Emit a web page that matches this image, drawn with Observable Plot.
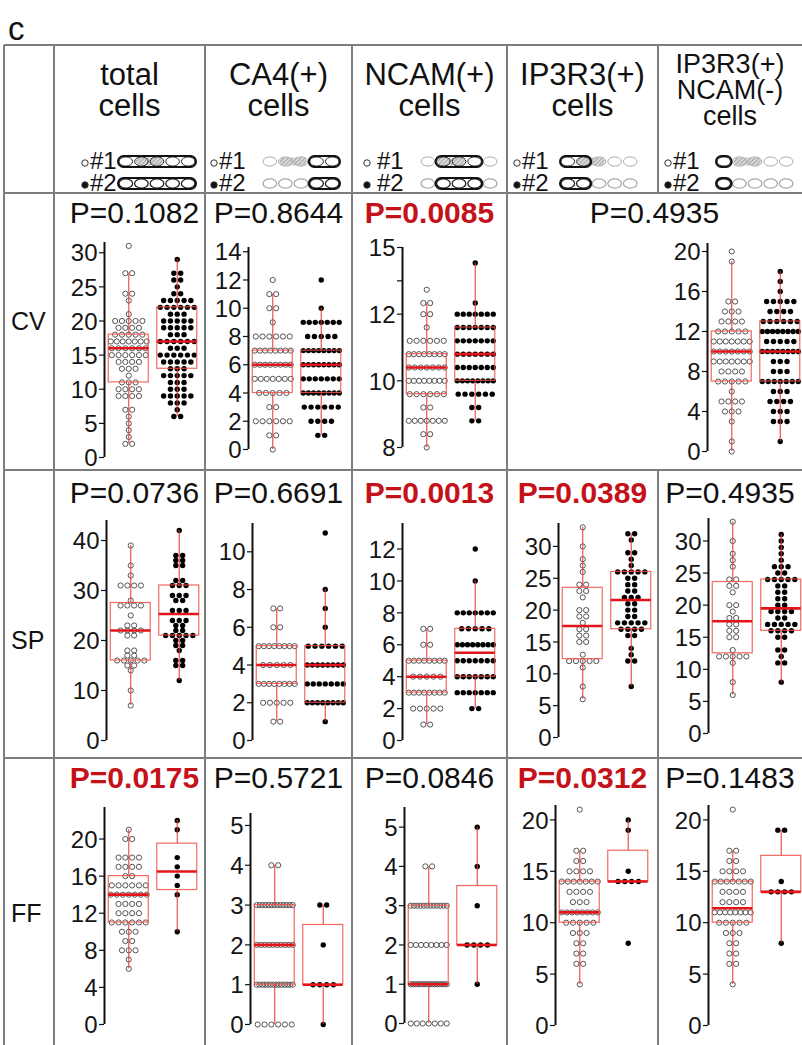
<!DOCTYPE html>
<html><head><meta charset="utf-8">
<script src="https://cdn.jsdelivr.net/npm/d3@7"></script>
<script src="https://cdn.jsdelivr.net/npm/@observablehq/plot@0.6"></script>
<style>
body{margin:0;background:#fff;}
#fig{position:relative;width:802px;height:1045px;overflow:hidden;background:#fff;}
</style></head><body><div id="fig"></div>
<script>
// ---------------- DATA ----------------
const groupNames = ["#1", "#2"];
const columnTitles = [["total","cells"],["CA4(+)","cells"],["NCAM(+)","cells"],["IP3R3(+)","cells"],["IP3R3(+)","NCAM(-)","cells"]];
const rowNames = ["CV", "SP", "FF"];

// P values per row (CV row: last two columns merged)
const pCV = ["P=0.1082","P=0.8644","P=0.0085","P=0.4935"];
const pSP = ["P=0.0736","P=0.6691","P=0.0013","P=0.0389","P=0.4935"];
const pFF = ["P=0.0175","P=0.5721","P=0.0846","P=0.0312","P=0.1483"];
const sigCV = [false,false,true,false];
const sigSP = [false,false,true,true,false];
const sigFF = [true,false,false,true,false];

// dot values as [value, count]; boxes as [whiskerLow, q1, median, q3, whiskerHigh]
const cv_tot_1 = [[31,1],[27,2],[24,2],[23,1],[21,1],[20,5],[19,4],[18,5],[17,7],[16,6],[15,6],[14,4],[13,3],[12,1],[11,3],[10,4],[9,4],[7,2],[6,1],[5,1],[4,1],[3,1],[2,2]];
const cv_tot_2 = [[29,1],[27,2],[26,2],[25,1],[24,2],[23,5],[22,6],[21,3],[20,5],[19,5],[18,3],[17,6],[16,3],[15,6],[14,5],[13,3],[12,5],[11,3],[10,3],[9,5],[8,3],[7,1],[6,2]];
const cv_tot_box = [[2,11,16,18,27],[6,13,17,22,29]];
const cv_tot_ticks = [0,5,10,15,20,25,30];

const cv_ca4_1 = [[12,1],[11,2],[10,2],[9,1],[8,6],[7,8],[6,8],[5,7],[4,5],[3,2],[2,6],[1,2],[0,1]];
const cv_ca4_2 = [[12,1],[10,1],[9,7],[8,5],[7,8],[6,8],[5,7],[4,8],[3,6],[2,4],[1,2]];
const cv_ca4_box = [[0,4,6,7,11],[1,4,6,7,10]];
const cv_ca4_ticks = [0,2,4,6,8,10,12,14];

const cv_ncam_1 = [[13.1,1],[12.5,2],[12,2],[11.6,1],[11.2,6],[10.8,8],[10.4,7],[10,8],[9.6,6],[9.2,2],[8.8,7],[8.4,2],[8,1]];
const cv_ncam_2 = [[14.3,1],[12.5,1],[12,7],[11.6,7],[11.2,7],[10.8,7],[10.4,7],[10,8],[9.6,6],[9.2,2],[8.8,2]];
const cv_ncam_box = [[8,9.6,10.4,10.8,12.5],[8.8,10,10.8,11.6,14.3]];
const cv_ncam_ticks = [8,10,12,13.5,15];
const cv_ncam_labels = ["8","10","12","","15"];

const cv_ip_1 = [[20,1],[19,1],[15,2],[14,3],[13,4],[12,5],[11,7],[10,7],[9,7],[8,4],[7,5],[6,1],[5,4],[4,3],[3,1],[1,1],[0,1]];
const cv_ip_2 = [[18,1],[17,1],[16,1],[15,5],[14,4],[13,6],[12,8],[11,5],[10,8],[9,3],[8,3],[7,7],[6,3],[5,4],[4,3],[3,3],[1,1]];
const cv_ip_box = [[0,7,10,12,19],[1,7,10,13,18]];
const cv_ip_ticks = [0,4,8,12,16,20];

const sp_tot_1 = [[39,1],[35,1],[33,1],[31,4],[28,1],[27,4],[25,1],[23,2],[22,4],[21,2],[18,2],[17,2],[16,5],[15,2],[14,1],[10,1],[7,1]];
const sp_tot_2 = [[42,1],[37,2],[36,2],[35,2],[32,2],[31,3],[29,3],[28,2],[26,3],[24,3],[23,2],[22,2],[21,5],[20,2],[19,2],[18,1],[16,2],[15,2],[12,1]];
const sp_tot_box = [[7,16,22,27.5,39],[12,21,25.3,31,42]];
const sp_tot_ticks = [0,10,20,30,40];

const sp_ca4_1 = [[7,2],[6,2],[5,8],[4,5],[3,8],[2,5],[1,2]];
const sp_ca4_2 = [[11,1],[8,1],[7,1],[6,1],[5,6],[4,8],[3,7],[2,8],[1,1]];
const sp_ca4_box = [[1,3,4,5,7],[1,2,4,5,8]];
const sp_ca4_ticks = [0,2,4,6,8,10];

const sp_ncam_1 = [[7,2],[6,2],[5,8],[4,5],[3,8],[2,5],[1,2]];
const sp_ncam_2 = [[12,1],[10,1],[8,7],[7,5],[6,8],[5,7],[4,7],[3,7],[2,2]];
const sp_ncam_box = [[1,3,4,5,7],[2,4,5.5,7,10]];
const sp_ncam_ticks = [0,2,4,6,8,10,12];

const sp_ip_1 = [[33,1],[30,1],[28,1],[27,1],[26,1],[24,2],[23,2],[22,1],[20,2],[19,2],[18,1],[17,2],[16,2],[15,2],[13,1],[12,5],[11,1],[8,1],[6,1]];
const sp_ip_2 = [[32,2],[31,1],[29,2],[28,1],[27,1],[26,5],[25,2],[24,2],[23,2],[22,3],[21,2],[20,2],[19,2],[18,5],[17,4],[16,2],[14,1],[13,1],[12,2],[8,1]];
const sp_ip_box = [[6,12.3,17.5,23.5,33],[8,17,21.6,26,32]];
const sp_ip_ticks = [0,5,10,15,20,25,30];

const sp_ipn_1 = [[33,1],[30,1],[28,1],[27,1],[26,1],[24,2],[23,2],[22,1],[20,2],[19,1],[18,2],[17,2],[16,2],[15,2],[13,1],[12,5],[11,1],[8,1],[6,1]];
const sp_ipn_2 = [[31,1],[30,1],[29,1],[28,1],[27,1],[26,3],[25,2],[24,5],[23,2],[22,2],[21,2],[20,2],[19,4],[18,2],[17,5],[16,4],[15,2],[13,2],[12,1],[11,2],[8,1]];
const sp_ipn_box = [[6,12.5,17.5,23.6,33],[8,16,19.5,24,31]];
const sp_ipn_ticks = [0,5,10,15,20,25,30];

const ff_tot_1 = [[21,1],[20,2],[18,4],[17,4],[16,2],[15,6],[14,7],[13,4],[12,4],[11,6],[10,3],[9,2],[8,3],[7,1],[6,1]];
const ff_tot_2 = [[22,1],[21,1],[18,1],[17,1],[16,1],[15,1],[14,1],[10,1]];
const ff_tot_box = [[6,11,14,16,21],[10,14.5,16.5,19.5,22]];
const ff_tot_ticks = [0,4,8,12,16,20];

const ff_ca4_1 = [[4,2],[3,13],[2,10],[1,14],[0,6]];
const ff_ca4_2 = [[3,2],[2,1],[1,4],[0,1]];
const ff_ca4_box = [[0,1,2,3,4],[0,1,1,2.5,3]];
const ff_ca4_ticks = [0,1,2,3,4,5];

const ff_ncam_1 = [[4,2],[3,12],[2,8],[1,16],[0,7]];
const ff_ncam_2 = [[5,1],[4,1],[3,1],[2,4],[1,1]];
const ff_ncam_box = [[0,1,1,3,4],[1,2,2,3.5,5]];
const ff_ncam_ticks = [0,1,2,3,4,5];

const ff_ip_1 = [[21,1],[17,2],[16,2],[15,4],[14,7],[13,4],[12,3],[11,8],[10,5],[9,3],[8,2],[7,2],[6,2],[4,1]];
const ff_ip_2 = [[20,1],[19,1],[15,1],[14,4],[8,1]];
const ff_ip_box = [[4,10,11,14,17],[14,14,14,17,20]];
const ff_ip_ticks = [0,5,10,15,20];

const ff_ipn_1 = [[21,1],[17,2],[16,2],[15,4],[14,7],[13,4],[12,4],[11,8],[10,5],[9,3],[8,2],[7,2],[6,2],[4,1]];
const ff_ipn_2 = [[19,2],[14,1],[13,4],[8,1]];
const ff_ipn_box = [[4,10,11.4,14,17],[8,13,13,16.5,19]];
const ff_ipn_ticks = [0,5,10,15,20];

// legend icon patterns per column: [dark outlined range, hatched range] (oval indices)
const iconDark1 = [[0,4],[3,4],[1,3],[0,1],[0,0]];
const iconHatch1 = [[1,2],[1,2],[1,2],[1,2],[1,2]];
const iconDark2 = [[0,4],[3,4],[1,3],[0,1],[0,0]];

// ---------------- LAYOUT ----------------
const FONT = "'Liberation Sans', Arial, Helvetica, sans-serif";
const RED = "#c4121a";
const TICK_FS = 24;
const colX = [4, 54, 205, 352, 507, 658, 802];
const rowY = [45, 193, 470, 758, 1045];
const fig = document.getElementById("fig");

const svg = d3.select(fig).append("svg")
  .attr("width", 802).attr("height", 1045)
  .style("position", "absolute").style("left", 0).style("top", 0)
  .style("font-family", FONT);

const defs = svg.append("defs");
const pat = defs.append("pattern").attr("id", "hatch").attr("patternUnits", "userSpaceOnUse")
  .attr("width", 3).attr("height", 3).attr("patternTransform", "rotate(45)");
pat.append("rect").attr("width", 3).attr("height", 3).attr("fill", "#d8d8d8");
pat.append("line").attr("x1", 0).attr("y1", 0).attr("x2", 0).attr("y2", 3).attr("stroke", "#888").attr("stroke-width", 1.2);

// grid lines
const GL = "#7d7d7d";
function hline(y, x1, x2) { svg.append("line").attr("x1", x1).attr("x2", x2).attr("y1", y).attr("y2", y).attr("stroke", GL).attr("stroke-width", 2); }
function vline(x, y1, y2) { svg.append("line").attr("x1", x).attr("x2", x).attr("y1", y1).attr("y2", y2).attr("stroke", GL).attr("stroke-width", 2); }
rowY.slice(0, 4).forEach(y => hline(y, colX[0], 802));
[0,1,2,3,4].forEach(i => vline(colX[i], rowY[0], 1045));
vline(colX[5], rowY[0], rowY[1]);
vline(colX[5], rowY[2], 1045);

// panel label "c"
svg.append("text").attr("x", 8).attr("y", 40).attr("font-size", 33).attr("fill", "#111").text("c");

// header titles
columnTitles.forEach((lines, j) => {
  const cx = (colX[j + 1] + colX[j + 2]) / 2;
  const three = lines.length === 3;
  const fs = three ? 27 : 31;
  const y0 = three ? 73 : 85;
  const dy = three ? 26 : 31;
  lines.forEach((t, k) => svg.append("text").attr("x", cx).attr("y", y0 + k * dy)
    .attr("text-anchor", "middle").attr("font-size", fs).attr("fill", "#111").text(t));
});

// header legends: offsets of marker and pill from the cell's left edge
const legMarkerOff = [28, 6, 12, 7, 7];
const legPillOff = [64, 57, 68, 53, 58];
function pill(x, y, dark, hatch, strong) {
  const g = svg.append("g");
  const ow = 15.6, n = 5;
  if (hatch) g.append("rect").attr("x", x + hatch[0] * ow + 2).attr("y", y + 1.5).attr("width", (hatch[1] - hatch[0] + 1) * ow - 4).attr("height", 8).attr("rx", 4).attr("fill", "url(#hatch)");
  for (let i = 0; i < n; i++) {
    g.append("ellipse").attr("cx", x + ow / 2 + i * ow).attr("cy", y + 5.5).attr("rx", 6.8).attr("ry", 4.6)
      .attr("fill", "none").attr("stroke", (i >= dark[0] && i <= dark[1]) ? "#222" : "#aaa").attr("stroke-width", strong ? 1.3 : 1);
  }
  g.append("rect").attr("x", x + dark[0] * ow).attr("y", y).attr("width", (dark[1] - dark[0] + 1) * ow).attr("height", 11).attr("rx", 5.5)
    .attr("fill", "none").attr("stroke", "#111").attr("stroke-width", 2);
}
columnTitles.forEach((_, j) => {
  const x = colX[j + 1] + legMarkerOff[j];
  [0, 1].forEach(gi => {
    const yb = gi === 0 ? 169 : 191;
    svg.append("circle").attr("cx", x + 3).attr("cy", yb - 6).attr("r", 3.2)
      .attr("fill", gi === 0 ? "none" : "#111").attr("stroke", "#333").attr("stroke-width", 1);
    svg.append("text").attr("x", x + (j === 2 ? 13 : 8)).attr("y", yb).attr("font-size", 24).attr("fill", "#111").text(groupNames[gi]);
    pill(colX[j + 1] + legPillOff[j], yb - 13, gi === 0 ? iconDark1[j] : iconDark2[j], gi === 0 ? iconHatch1[j] : null, gi === 1);
  });
});

// row labels
const rowLabelY = [330, 649, 922];
rowNames.forEach((r, i) => svg.append("text").attr("x", 11).attr("y", rowLabelY[i]).attr("font-size", 25).attr("fill", "#111").text(r));

// P values
function pText(cx, y, t, sig) {
  svg.append("text").attr("x", cx).attr("y", y).attr("text-anchor", "middle").attr("font-size", 30)
    .attr("font-weight", sig ? "bold" : "normal").attr("fill", sig ? RED : "#111").text(t);
}
const cellC = j => (colX[j + 1] + colX[j + 2]) / 2;
pCV.forEach((t, j) => pText(j < 3 ? cellC(j) + (j === 0 ? 5 : 0) : (colX[4] + colX[6]) / 2, 223, t, sigCV[j]));
pSP.forEach((t, j) => pText(cellC(j) + (j === 0 ? 5 : 0), 503, t, sigSP[j]));
pFF.forEach((t, j) => pText(cellC(j) + (j === 0 ? 5 : 0), 788, t, sigFF[j]));

// ---------------- PANELS ----------------
const ncamPos = d3.scaleLinear().domain([8, 10, 12, 15]).range([0, 1, 2, 3]);
const panels = [
  {axisX:104, top:242, bottom:457, domain:[0,31.5], ticks:cv_tot_ticks, d1:cv_tot_1, d2:cv_tot_2, box:cv_tot_box},
  {axisX:248, top:247, bottom:449, domain:[0,14.3], ticks:cv_ca4_ticks, d1:cv_ca4_1, d2:cv_ca4_2, box:cv_ca4_box},
  {axisX:402, top:247, bottom:447, domain:[8,15], ticks:cv_ncam_ticks, labels:cv_ncam_labels, tf:ncamPos, d1:cv_ncam_1, d2:cv_ncam_2, box:cv_ncam_box},
  {axisX:707, top:243, bottom:451, domain:[0,20.8], ticks:cv_ip_ticks, d1:cv_ip_1, d2:cv_ip_2, box:cv_ip_box},
  {axisX:106, top:520, bottom:740, domain:[0,44], ticks:sp_tot_ticks, d1:sp_tot_1, d2:sp_tot_2, box:sp_tot_box},
  {axisX:252, top:523, bottom:740, domain:[0,11.5], ticks:sp_ca4_ticks, d1:sp_ca4_1, d2:sp_ca4_2, box:sp_ca4_box},
  {axisX:402, top:523, bottom:740, domain:[0,13.6], ticks:sp_ncam_ticks, d1:sp_ncam_1, d2:sp_ncam_2, box:sp_ncam_box},
  {axisX:558, top:523, bottom:737, domain:[0,33.6], ticks:sp_ip_ticks, d1:sp_ip_1, d2:sp_ip_2, box:sp_ip_box},
  {axisX:708, top:518, bottom:733, domain:[0,33.5], ticks:sp_ipn_ticks, d1:sp_ipn_1, d2:sp_ipn_2, box:sp_ipn_box},
  {axisX:104, top:807, bottom:1024, domain:[0,23.4], ticks:ff_tot_ticks, d1:ff_tot_1, d2:ff_tot_2, box:ff_tot_box},
  {axisX:250, top:813, bottom:1024, domain:[0,5.3], ticks:ff_ca4_ticks, d1:ff_ca4_1, d2:ff_ca4_2, box:ff_ca4_box},
  {axisX:404, top:807, bottom:1023, domain:[0,5.5], ticks:ff_ncam_ticks, d1:ff_ncam_1, d2:ff_ncam_2, box:ff_ncam_box},
  {axisX:555, top:805, bottom:1025, domain:[0,21.4], ticks:ff_ip_ticks, d1:ff_ip_1, d2:ff_ip_2, box:ff_ip_box},
  {axisX:708, top:805, bottom:1025, domain:[0,21.4], ticks:ff_ipn_ticks, d1:ff_ipn_1, d2:ff_ipn_2, box:ff_ipn_box}
];

function drawPanel(p) {
  const ML = 56, MR = 8, MT = 10, MB = 14, W = 97;
  const pxPerUnit = W / 2;
  const tf = p.tf || (v => v);
  const dots = [];
  [p.d1, p.d2].forEach((arr, gi) => {
    const c = gi + 0.5;
    for (const [v, n] of arr) {
      const sp = n > 1 ? Math.min(6.8, 36 / (n - 1)) : 0;
      for (let i = 0; i < n; i++) dots.push({g: gi, x: c + (i - (n - 1) / 2) * sp / pxPerUnit, y: tf(v)});
    }
  });
  const boxes = p.box.map((b, gi) => ({c: gi + 0.5, lo: tf(b[0]), q1: tf(b[1]), med: tf(b[2]), q3: tf(b[3]), hi: tf(b[4])}));
  const hw = 20 / pxPerUnit;
  const tickData = p.ticks.map((t, i) => ({y: tf(t), label: p.labels ? p.labels[i] : String(t)}));
  const dom = p.domain.map(tf);
  const tickLen = 5 / pxPerUnit;
  const chart = Plot.plot({
    width: ML + W + MR, height: MT + (p.bottom - p.top) + MB,
    marginLeft: ML, marginRight: MR, marginTop: MT, marginBottom: MB,
    style: {fontFamily: FONT, background: "none", overflow: "visible", color: "#151515"},
    x: {domain: [0, 2], axis: null},
    y: {domain: dom, axis: null},
    marks: [
      // axis line, tick marks and tick labels
      Plot.ruleX([dom[0]], {x: () => 0, y1: dom[0], y2: dom[1], stroke: "#111", strokeWidth: 2}),
      Plot.ruleY(tickData, {y: "y", x1: -tickLen, x2: 0, stroke: "#111", strokeWidth: 1.2}),
      Plot.text(tickData, {x: 0, y: "y", text: "label", textAnchor: "end", dx: -7, dy: 1, fontSize: TICK_FS, fill: "#151515"}),
      // dots
      Plot.dot(dots.filter(d => d.g === 0), {x: "x", y: "y", r: 2.6, fill: "none", stroke: "#555", strokeWidth: 1}),
      Plot.dot(dots.filter(d => d.g === 1), {x: "x", y: "y", r: 2.7, fill: "#000", stroke: "none"}),
      // box plots
      Plot.ruleX(boxes, {x: "c", y1: "lo", y2: "q1", stroke: "#e8352c", strokeWidth: 1.2, strokeOpacity: 0.85}),
      Plot.ruleX(boxes, {x: "c", y1: "q3", y2: "hi", stroke: "#e8352c", strokeWidth: 1.2, strokeOpacity: 0.85}),
      Plot.rect(boxes, {x1: d => d.c - hw, x2: d => d.c + hw, y1: "q1", y2: "q3", fill: "none", stroke: "#f05048", strokeWidth: 1.2, strokeOpacity: 0.85}),
      Plot.ruleY(boxes, {y: "med", x1: d => d.c - hw, x2: d => d.c + hw, stroke: "#e4141b", strokeWidth: 2.6})
    ]
  });
  chart.style.position = "absolute";
  chart.style.left = (p.axisX - ML) + "px";
  chart.style.top = (p.top - MT) + "px";
  fig.appendChild(chart);
}
panels.forEach(drawPanel);
</script></body></html>
